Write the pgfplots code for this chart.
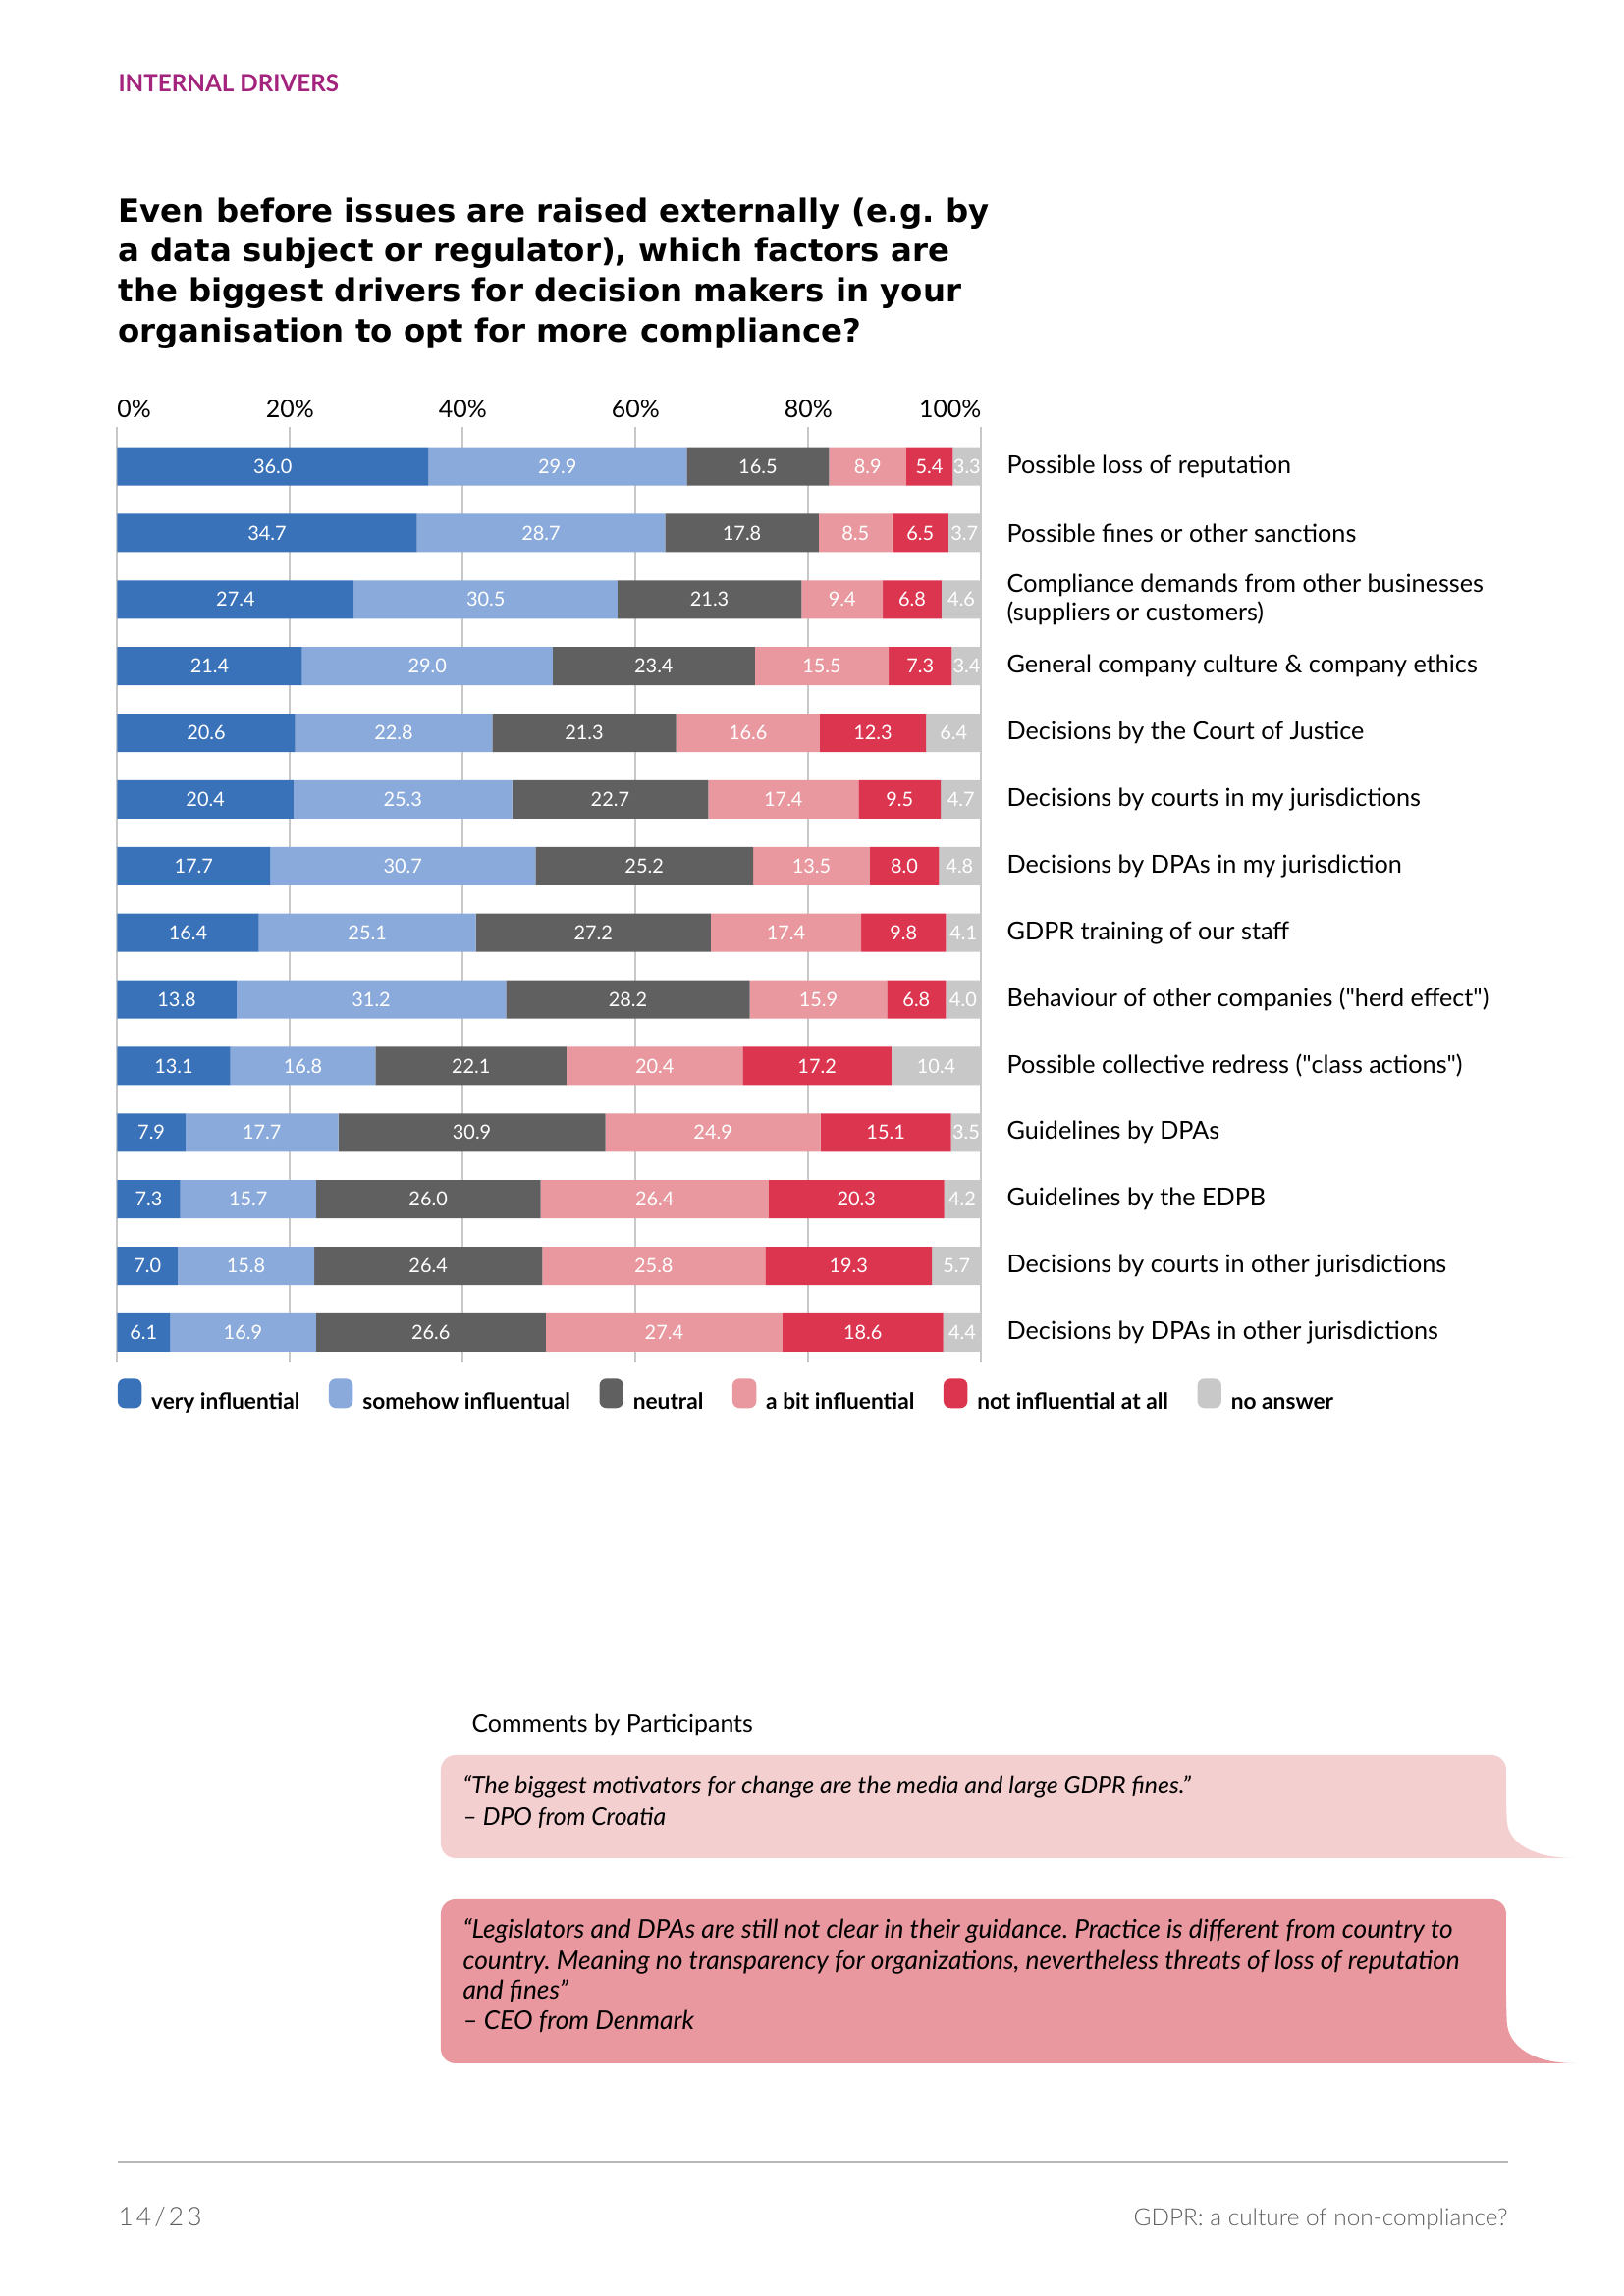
\documentclass[border=0pt]{standalone}
\usepackage{fontspec}
\setmainfont{Lato}
\newfontfamily\titlefont{DejaVu Sans}
\IfFontExistsTF{Lato Light}{\newfontfamily\lightfont{Lato Light}}{\newcommand\lightfont{}}
\usepackage{pgfplots}
\pgfplotsset{compat=1.18}
\usepackage{pgfplotstable}
\frenchspacing

\definecolor{cvi}{RGB}{58,114,186}
\definecolor{csi}{RGB}{138,170,219}
\definecolor{cne}{RGB}{96,96,96}
\definecolor{cab}{RGB}{232,152,158}
\definecolor{cni}{RGB}{220,53,80}
\definecolor{cna}{RGB}{200,200,200}
\definecolor{gridgray}{RGB}{200,200,200}
\definecolor{header}{RGB}{163,35,125}
\definecolor{bubblelight}{RGB}{244,207,208}
\definecolor{footgray}{RGB}{95,95,95}

% shares in %, rows top to bottom
\pgfplotstableread{
y  vi    si    ne    ab    ni    na
0  36.0  29.9  16.5  8.9   5.4   3.3
1  34.7  28.7  17.8  8.5   6.5   3.7
2  27.4  30.5  21.3  9.4   6.8   4.6
3  21.4  29.0  23.4  15.5  7.3   3.4
4  20.6  22.8  21.3  16.6  12.3  6.4
5  20.4  25.3  22.7  17.4  9.5   4.7
6  17.7  30.7  25.2  13.5  8.0   4.8
7  16.4  25.1  27.2  17.4  9.8   4.1
8  13.8  31.2  28.2  15.9  6.8   4.0
9  13.1  16.8  22.1  20.4  17.2  10.4
10 7.9   17.7  30.9  24.9  15.1  3.5
11 7.3   15.7  26.0  26.4  20.3  4.2
12 7.0   15.8  26.4  25.8  19.3  5.7
13 6.1   16.9  26.6  27.4  18.6  4.4
}\data

\begin{document}
\begin{tikzpicture}
\begin{scope}[x=0.127mm, y=-0.127mm]
\fill[white] (0,0) rectangle (1654,2339);

\node[anchor=base west, inner sep=0pt, text=header, font=\bfseries\fontsize{8.75}{10}\selectfont] at (120,93) {INTERNAL DRIVERS};

\begin{scope}[every node/.style={anchor=base west, inner sep=0pt, font=\titlefont\bfseries\fontsize{11.7}{14}\selectfont}]
\node at (120,226) {Even before issues are raised externally (e.g. by};
\node at (120,267) {a data subject or regulator), which factors are};
\node at (120,308) {the biggest drivers for decision makers in your};
\node at (120,349) {organisation to opt for more compliance?};
\end{scope}

\node[anchor=base west, inner sep=0pt, font=\fontsize{9}{11}\selectfont] at (480,1765) {Comments by Participants};

\fill[bubblelight] (1604,1893) [rounded corners=1.9mm] -- (449,1893) -- (449,1788) -- (1534,1788) -- (1534,1840) [sharp corners] .. controls (1536,1878) and (1562,1893) .. (1604,1893) -- cycle;
\fill[cab] (1604,2102) [rounded corners=1.9mm] -- (449,2102) -- (449,1935) -- (1534,1935) -- (1534,2045) [sharp corners] .. controls (1536,2085) and (1562,2102) .. (1604,2102) -- cycle;

\begin{scope}[every node/.style={anchor=base west, inner sep=0pt, font=\itshape\fontsize{9}{11}\selectfont}]
\node at (471,1828) {“The biggest motivators for change are the media and large GDPR fines.”};
\node at (471,1860) {– DPO from Croatia};
\end{scope}
\begin{scope}[every node/.style={anchor=base west, inner sep=0pt, font=\itshape\fontsize{9.5}{11}\selectfont}]
\node at (471,1975) {“Legislators and DPAs are still not clear in their guidance. Practice is different from country to};
\node at (471,2007) {country. Meaning no transparency for organizations, nevertheless threats of loss of reputation};
\node at (471,2037) {and fines”};
\node at (471,2068) {– CEO from Denmark};
\end{scope}

\draw[draw={rgb,255:red,185;green,185;blue,185}, line width=0.38mm] (120,2203) -- (1536,2203);
\node[anchor=base west, inner sep=0pt, text=footgray, font=\lightfont\fontsize{9.5}{11}\selectfont\addfontfeatures{LetterSpace=12}] at (120,2268) {14/23};
\node[anchor=base east, inner sep=0pt, text=footgray, font=\lightfont\fontsize{8.8}{11}\selectfont] at (1536,2268) {GDPR: a culture of non-compliance?};
\end{scope}

\begin{axis}[
    at={(15.16mm,-55.245mm)}, anchor=north west,
    scale only axis,
    width=111.76mm, height=121.03mm,
    xbar stacked, bar width=4.95mm,
    xmin=0, xmax=100,
    ymin=-0.59, ymax=13.45, y dir=reverse,
    axis line style={draw=none},
    major tick length=0pt,
    xtick={0,20,40,60,80,100},
    xticklabels={\makebox[0pt][l]{0\%},20\%,40\%,60\%,80\%,\makebox[0pt][r]{100\%}},
    xticklabel pos=upper,
    xticklabel style={font=\fontsize{9}{11}\selectfont},
    xmajorgrids,
    major grid style={draw=gridgray, line width=0.7pt},
    ytick={0,...,13},
    yticklabels={
        {Possible loss of reputation},
        {Possible fines or other sanctions},
        {Compliance demands from other businesses\\(suppliers or customers)},
        {General company culture \& company ethics},
        {Decisions by the Court of Justice},
        {Decisions by courts in my jurisdictions},
        {Decisions by DPAs in my jurisdiction},
        {GDPR training of our staff},
        {Behaviour of other companies (\textquotedbl herd effect\textquotedbl)},
        {Possible collective redress (\textquotedbl class actions\textquotedbl)},
        {Guidelines by DPAs},
        {Guidelines by the EDPB},
        {Decisions by courts in other jurisdictions},
        {Decisions by DPAs in other jurisdictions}},
    yticklabel pos=right,
    yticklabel style={anchor=west, align=left, xshift=2.1mm, font=\fontsize{9.1}{10.4}\selectfont},
    point meta=explicit symbolic,
    nodes near coords={\pgfplotspointmeta},
    nodes near coords align={center},
    every node near coord/.append style={anchor=center, text=white, inner sep=0pt,
        font=\fontsize{7.2}{8}\selectfont},
    legend columns=6,
    legend image code/.code={\path[#1, draw=none, rounded corners=0.9mm] (0mm,-0.8mm) rectangle (3.1mm,3.0mm); \path (3.65mm,0);},
    legend style={at={(0,0)}, anchor=north west, draw=none, fill=none, inner sep=0pt,
        yshift=-2.0mm, font=\bfseries\fontsize{8.2}{10}\selectfont,
        /tikz/every even column/.append style={column sep=3.05mm}},
]
\addplot[fill=cvi, draw=none] table[x=vi, y=y, meta=vi] {\data};
\addplot[fill=csi, draw=none] table[x=si, y=y, meta=si] {\data};
\addplot[fill=cne, draw=none] table[x=ne, y=y, meta=ne] {\data};
\addplot[fill=cab, draw=none] table[x=ab, y=y, meta=ab] {\data};
\addplot[fill=cni, draw=none] table[x=ni, y=y, meta=ni] {\data};
\addplot[fill=cna, draw=none] table[x=na, y=y, meta=na] {\data};
\legend{\strut very influential, \strut somehow influentual, \strut neutral, \strut a bit influential, \strut not influential at all, \strut no answer}
\end{axis}
\pgfresetboundingbox
\useasboundingbox (0,0) rectangle (210.058mm,-297.053mm);
\end{tikzpicture}
\end{document}
